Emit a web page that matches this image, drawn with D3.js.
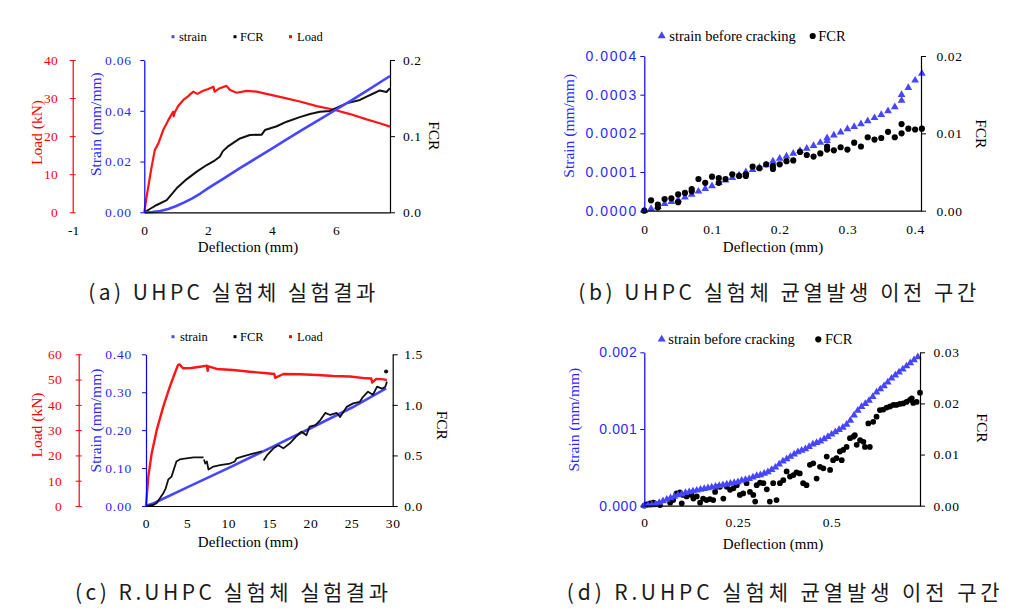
<!DOCTYPE html>
<html><head><meta charset="utf-8">
<script src="https://cdn.jsdelivr.net/npm/d3@7"></script>
<style>body{margin:0;background:#fff} svg{display:block}</style>
</head><body>
<svg id="c" width="1022" height="611"></svg>
<script>
// ---------- (a) UHPC ----------
const aStrainDefl = [0,0.25,0.5,0.75,1.0,1.25,1.5,1.75,2.0,2.5,3,3.5,4,4.5,5,5.5,6,6.5,7,7.68];
const aStrain = [0,0.0001,0.0005,0.0013,0.0025,0.0039,0.0055,0.0074,0.0095,0.0135,0.0175,0.0213,0.0252,0.0291,0.0330,0.0367,0.0405,0.0443,0.0482,0.0537];
const aLoadDefl = [0,0.06,0.125,0.23,0.33,0.44,0.59,0.75,0.9,0.92,0.95,1.06,1.22,1.375,1.53,1.66,1.84,2.0,2.16,2.2,2.36,2.57,2.68,2.89,3.2,3.51,3.82,4.34,4.86,5.39,5.9,6.43,6.95,7.36,7.68];
const aLoad = [0,3.5,6.7,12,16.4,18.1,21.6,24.2,26.4,25.2,26.2,27.9,29.5,30.5,31.7,31.1,31.9,32.4,33,31.7,32.6,33.2,32.1,31.4,31.9,31.7,31.1,30.1,29.1,27.9,27,25.8,24.4,23.4,22.5];
const aFcrDefl = [0,0.2,0.39,0.7,1.01,1.32,1.64,1.95,2.2,2.36,2.45,2.63,2.99,3.3,3.67,3.77,4.14,4.45,4.86,5.18,5.49,5.8,6.11,6.32,6.74,6.95,7.16,7.36,7.57,7.68];
const aFcr = [0,0.005,0.0096,0.016,0.0315,0.0433,0.0534,0.0621,0.068,0.073,0.08,0.087,0.097,0.1015,0.102,0.108,0.113,0.119,0.125,0.129,0.132,0.133,0.139,0.143,0.1475,0.152,0.156,0.160,0.158,0.163];
const aXTicks = [0,2,4,6];
const aStrainTicks = [0,0.02,0.04,0.06];
const aLoadTicks = [0,10,20,30,40];
const aFcrTicks = [0,0.1,0.2];

// ---------- (b) UHPC before cracking ----------
const bStrainDefl = [0,0.01,0.02,0.03,0.04,0.05,0.06,0.07,0.08,0.09,0.10,0.11,0.12,0.13,0.14,0.15,0.16,0.17,0.18,0.19,0.20,0.21,0.22,0.23,0.24,0.25,0.26,0.27,0.27,0.28,0.29,0.30,0.31,0.32,0.33,0.34,0.35,0.36,0.37,0.38,0.38,0.39,0.40,0.41];
const bStrain = [0,0.000005,0.00001,0.000018,0.000023,0.000028,0.000035,0.000042,0.00005,0.000057,0.000064,0.000072,0.000079,0.000085,0.000092,0.0001,0.000106,0.000112,0.000118,0.000128,0.000135,0.000141,0.000148,0.000155,0.000161,0.000168,0.000176,0.000181,0.000188,0.000195,0.000203,0.000211,0.000217,0.000224,0.000232,0.00024,0.000248,0.000258,0.000268,0.000285,0.0003,0.000318,0.000337,0.000355];
const bFcrDefl = [0,0.01,0.02,0.02,0.03,0.04,0.05,0.05,0.06,0.07,0.07,0.08,0.09,0.10,0.11,0.11,0.12,0.13,0.14,0.15,0.15,0.16,0.17,0.18,0.19,0.19,0.20,0.21,0.22,0.23,0.24,0.25,0.26,0.27,0.27,0.28,0.29,0.30,0.31,0.32,0.33,0.34,0.35,0.36,0.37,0.38,0.38,0.39,0.40,0.41];
const bFcr = [0,0.00134,0.0008,0.0004,0.0015,0.0016,0.0021,0.0011,0.0023,0.0028,0.0025,0.0041,0.0036,0.0044,0.0042,0.0036,0.0041,0.0047,0.0045,0.0047,0.0045,0.0057,0.0055,0.006,0.0058,0.0054,0.006,0.0064,0.0065,0.0076,0.0072,0.007,0.0074,0.0083,0.0079,0.0078,0.0082,0.0079,0.0088,0.0083,0.0095,0.0092,0.0094,0.0102,0.0095,0.0112,0.01,0.0106,0.0105,0.0106];
const bXTicks = [0,0.1,0.2,0.3,0.4];
const bStrainTicks = [0,0.0001,0.0002,0.0003,0.0004];
const bFcrTicks = [0,0.01,0.02];

// ---------- (c) R.UHPC ----------
const cStrainDefl = [0,1,5,10,15,20,25,29.2];
const cStrain = [0,0.008,0.049,0.1,0.152,0.205,0.259,0.31];
const cLoadDefl = [0,0.28,0.69,1.3,2.1,2.9,3.5,3.9,4.1,4.5,5.5,6.6,7.4,7.5,7.6,8.6,10.6,12.6,14.7,15.6,15.7,16.7,18.7,20.8,22.8,24.8,26.8,27.4,27.5,28.0,28.9,29.3];
const cLoad = [0,11.6,20.8,30,39.3,47.2,52.5,55.8,56,54.5,54.6,55.1,55.5,53.5,55.2,54.2,53.8,53.1,52.5,52.2,50.7,52.2,52.1,51.8,51.4,51.2,50.5,50.4,48.8,50.3,50.1,49.8];
const cFcrDefl = [0,0.9,1.3,2.1,2.4,2.7,3.1,3.3,3.7,4.1,4.9,5.8,7.0,7.02, 7.05,7.2,7.4,7.6,8.2,9.0,10.2,10.8,11.0,11.8,13.1,14.1,14.2, 14.3,14.7,15.5,16.1,16.7,17.5,18.3,18.9,19.5,19.9,20.6,21.2,21.8,22.4,23.2,23.6,24.4,25.2,26.0,26.4,27.0,27.6,28.1,28.7,29.1,29.3];
const cFcr = [0,0.01,0.03,0.125,0.175,0.26,0.29,0.34,0.44,0.46,0.47,0.48,0.48,null, 0.46,0.42,0.44,0.36,0.39,0.405,0.42,0.44,0.47,0.49,0.52,0.54,null, 0.45,0.50,0.57,0.60,0.57,0.62,0.69,0.735,0.70,0.785,0.80,0.85,0.92,0.90,0.92,0.88,0.98,1.015,1.03,1.08,1.13,1.10,1.18,1.16,1.18,1.23];
const cFcrEnd = [29.2, 1.33];
const cXTicks = [0,5,10,15,20,25,30];
const cStrainTicks = [0,0.1,0.2,0.3,0.4];
const cLoadTicks = [0,10,20,30,40,50,60];
const cFcrTicks = [0,0.5,1.0,1.5];

// ---------- (d) R.UHPC before cracking ----------
const dStrainDefl = [0,0.01,0.02,0.03,0.04,0.05,0.06,0.07,0.08,0.09,0.10,0.11,0.12,0.13,0.14,0.15,0.16,0.17,0.18,0.19,0.20,0.21,0.22,0.23,0.24,0.25,0.26,0.27,0.28,0.29,0.30,0.31,0.32,0.33,0.34,0.35,0.36,0.37,0.38,0.39,0.40,0.41,0.42,0.43,0.44,0.45,0.46,0.47,0.48,0.49,0.50,0.51,0.52,0.53,0.54,0.55,0.56,0.57,0.58,0.59,0.60,0.61,0.62,0.63,0.64,0.65,0.66,0.67,0.68,0.69,0.70,0.71,0.72,0.73];
const dStrain = [0,0.000005,0.00001,0.00002,0.00004,0.00006,0.00008,0.0001,0.00012,0.00014,0.00015,0.00017,0.00018,0.00019,0.0002,0.00021,0.00022,0.00023,0.00024,0.00025,0.00026,0.00027,0.00028,0.00029,0.0003,0.00031,0.00033,0.00034,0.00035,0.00037,0.00039,0.0004,0.00042,0.00044,0.00047,0.0005,0.00054,0.00058,0.00061,0.00064,0.00067,0.0007,0.00072,0.00074,0.00077,0.0008,0.00082,0.00084,0.00087,0.0009,0.00093,0.00096,0.00099,0.00102,0.00106,0.00111,0.00118,0.00124,0.00129,0.00133,0.00137,0.00142,0.00148,0.00152,0.00156,0.00161,0.00166,0.0017,0.00174,0.00178,0.00182,0.00186,0.0019,0.00194];
const dFcrDefl = [0,0.006,0.015,0.024,0.033,0.042,0.069,0.077,0.086,0.095,0.1,0.104,0.113,0.122,0.126,0.131,0.14,0.149,0.157,0.166,0.175,0.184,0.189,0.193,0.202,0.211,0.22,0.229,0.238,0.247,0.255,0.264,0.273,0.282,0.291,0.296,0.3,0.309,0.318,0.327,0.335,0.344,0.353,0.362,0.371,0.38,0.389,0.398,0.406,0.415,0.424,0.433,0.442,0.451,0.46,0.469,0.478,0.487,0.496,0.504,0.513,0.522,0.527,0.531,0.54,0.549,0.558,0.562,0.567,0.576,0.585,0.589,0.602,0.598,0.611,0.62,0.629,0.638,0.647,0.656,0.665,0.673,0.682,0.691,0.7,0.709,0.714,0.718,0.727,0.736];
const dFcr = [0,0.00026,0.00046,0.00059,0.00033,0.00013,0.00059,0.0011,0.0024,0.0026,0.00046,0.0021,0.0018,0.0024,0.0021,0.0014,0.0018,0.00059,0.0014,0.0011,0.0013,0.0011,0.0027,0.0037,0.0037,0.0014,0.0037,0.0031,0.0034,0.004,0.0021,0.0024,0.0044,0.0027,0.0021,0.0008,0.004,0.0045,0.0044,0.0032,0.0008,0.0044,0.0011,0.0044,0.005,0.0067,0.0057,0.006,0.0065,0.0063,0.0044,0.004,0.008,0.0083,0.0053,0.0076,0.0073,0.0096,0.007,0.0089,0.0093,0.0106,0.0089,0.0109,0.0115,0.0132,0.0135,0.0138,0.0119,0.0128,0.0125,0.0115,0.0115,0.0161,0.0164,0.0174,0.0187,0.0188,0.0192,0.0194,0.0197,0.0197,0.0199,0.02,0.0203,0.0207,0.021,0.0201,0.0203,0.0221];
const dXTicks = [0,0.25,0.5];
const dStrainTicks = [0,0.001,0.002];
const dFcrTicks = [0,0.01,0.02,0.03];

const captions = ["(a) UHPC 실험체 실험결과","(b) UHPC 실험체 균열발생 이전 구간","(c) R.UHPC 실험체 실험결과","(d) R.UHPC 실험체 균열발생 이전 구간"];

// ---------- drawing ----------
const svg = d3.select('#c');
const SERIF = "'Liberation Serif','Times New Roman',serif";
const SANS = "'Liberation Sans',Arial,sans-serif";
const RED = '#ff0000', BLUE = '#0000ff', BLUE_T = '#2a2aff', SBLUE = '#4646ff', BLACK = '#000';
const zip = (xs, ys) => xs.map((v, i) => [v, ys[i]]);

function styleAxis(g, color, ls, fs, family) {
  g.select('.domain').attr('stroke', color).attr('stroke-width', 1.2);
  g.selectAll('.tick line').attr('stroke', color).attr('stroke-width', 1);
  g.selectAll('.tick text').attr('fill', color).attr('font-family', family || SERIF)
    .attr('font-size', fs).style('letter-spacing', ls + 'px');
}

function vTitle(x, y, text, color, rot) {
  svg.append('text').attr('transform', `translate(${x},${y}) rotate(${rot})`)
    .attr('text-anchor', 'middle').attr('font-family', SERIF).attr('font-size', 15.5)
    .attr('fill', color).text(text);
}

function panel(c) {
  const x = d3.scaleLinear().domain(c.xDomain).range([c.left, c.right]);
  const yL = d3.scaleLinear().domain(c.lDomain).range([c.bottom, c.top]);
  const yR = d3.scaleLinear().domain(c.rDomain).range([c.bottom, c.top]);

  const layer = svg.append('g');
  c.series.forEach(s => {
    const y = s.axis === 'l' ? yL : s.axis === 'r' ? yR : s.yScale;
    const data = zip(s.xs, s.ys);
    if (s.type === 'line') {
      layer.append('path').datum(data)
        .attr('d', d3.line().defined(d => d[1] != null).x(d => x(d[0])).y(d => y(d[1])))
        .attr('fill', 'none').attr('stroke', s.color).attr('stroke-width', s.w)
        .attr('stroke-linejoin', 'round');
    } else {
      const sym = d3.symbol().type(s.type === 'tri' ? d3.symbolTriangle : d3.symbolCircle).size(s.size);
      layer.selectAll(null).data(data).enter().append('path')
        .attr('d', sym).attr('transform', d => `translate(${x(d[0])},${y(d[1])})`)
        .attr('fill', s.color);
    }
  });

  // x axis (no visible tick marks)
  const gx = svg.append('g').attr('transform', `translate(0,${c.bottom})`)
    .call(d3.axisBottom(x).tickValues(c.xTicks).tickFormat(c.xFmt).tickSize(0).tickSizeOuter(0).tickPadding(c.xPad + 4));
  styleAxis(gx, BLACK, 0.6, 13.5);
  // left strain axis
  const gl = svg.append('g').attr('transform', `translate(${c.left},0)`)
    .call(d3.axisLeft(yL).tickValues(c.lTicks).tickFormat(c.lFmt).tickSize(4).tickSizeOuter(0).tickPadding(c.lPad));
  styleAxis(gl, BLUE, c.lLs, c.lFs || 13.5, c.lFamily);
  gl.selectAll('.tick text').attr('fill', BLUE_T);
  // right fcr axis
  const gr = svg.append('g').attr('transform', `translate(${c.right},0)`)
    .call(d3.axisRight(yR).tickValues(c.rTicks).tickFormat(c.rFmt).tickSize(5).tickSizeOuter(0).tickPadding(c.rPad));
  styleAxis(gr, BLACK, 0.6, 13.5);
  // load axis (ticks crossing the line)
  if (c.load) {
    const gL = svg.append('g').attr('transform', `translate(${c.load.x},0)`)
      .call(d3.axisLeft(c.load.scale).tickValues(c.load.ticks).tickFormat(d3.format('d')).tickSize(3).tickSizeOuter(0).tickPadding(c.load.pad));
    styleAxis(gL, RED, 0.4, 13.5);
    gL.selectAll('.tick line').attr('x1', 3);
    vTitle(c.load.tx, c.load.ty, 'Load (kN)', RED, -90);
    if (c.load.extraX) {
      svg.append('text').attr('x', c.load.x + 1).attr('y', c.bottom + c.xPad + 4 + 9.6)
        .attr('text-anchor', 'middle').attr('font-family', SERIF).attr('font-size', 13.5).text(c.load.extraX);
    }
  }
  vTitle(c.sTitle[0], c.sTitle[1], 'Strain (mm/mm)', BLUE_T, -90);
  vTitle(c.fTitle[0], c.fTitle[1], 'FCR', BLACK, 90);
  svg.append('text').attr('x', c.xTitle[0]).attr('y', c.xTitle[1]).attr('text-anchor', 'middle')
    .attr('font-family', SERIF).attr('font-size', 15).text('Deflection (mm)');

  // legend
  c.legend.forEach(it => {
    const [lx, ly] = it.pos;
    if (it.mark === 'sq') {
      svg.append('rect').attr('x', lx - 1.5).attr('y', ly - 1.5).attr('width', 3).attr('height', 3).attr('fill', it.color);
    } else {
      const sym = d3.symbol().type(it.mark === 'tri' ? d3.symbolTriangle : d3.symbolCircle).size(it.size);
      svg.append('path').attr('d', sym).attr('transform', `translate(${lx},${ly})`).attr('fill', it.color);
    }
    svg.append('text').attr('x', it.tx).attr('y', ly + it.fs * 0.33).attr('font-family', SERIF)
      .attr('font-size', it.fs).text(it.text);
  });
}

const fmtDec = f => d => d === 0 ? '0' : d3.format(f)(d);

// (a)
const aLoadScale = d3.scaleLinear().domain([0, 40]).range([212.3, 60]);
panel({
  left: 144.3, right: 390, top: 60, bottom: 212.3,
  xDomain: [0, 7.68], xTicks: aXTicks, xFmt: d3.format('d'), xPad: 9,
  lDomain: [0, 0.06], lTicks: aStrainTicks, lFmt: d3.format('.2f'), lPad: 8.5, lLs: 0.8,
  rDomain: [0, 0.2], rTicks: aFcrTicks, rFmt: d3.format('.1f'), rPad: 8,
  load: { x: 72.7, scale: aLoadScale, ticks: aLoadTicks, pad: 11.5, tx: 42, ty: 132.5, extraX: '-1' },
  sTitle: [100.5, 124.2], fTitle: [428.5, 135.8], xTitle: [248, 252],
  series: [
    { type: 'line', xs: aLoadDefl, ys: aLoad, axis: 'load', yScale: aLoadScale, color: '#ff1515', w: 2.2 },
    { type: 'line', xs: aFcrDefl, ys: aFcr, axis: 'r', color: '#111', w: 2 },
    { type: 'line', xs: aStrainDefl, ys: aStrain, axis: 'l', color: SBLUE, w: 2.6 }
  ],
  legend: [
    { mark: 'sq', color: SBLUE, pos: [173, 36.7], tx: 179, text: 'strain', fs: 12.5 },
    { mark: 'sq', color: BLACK, pos: [235, 36.7], tx: 240, text: 'FCR', fs: 12.5 },
    { mark: 'sq', color: RED, pos: [290.5, 36.7], tx: 297, text: 'Load', fs: 12.5 }
  ]
});

// (b)
panel({
  left: 644.3, right: 921, top: 56, bottom: 210.7,
  xDomain: [0, 0.4087], xTicks: bXTicks, xFmt: fmtDec('.1f'), xPad: 10,
  lDomain: [0, 0.0004], lTicks: bStrainTicks, lFmt: d3.format('.4f'), lPad: 2.5, lLs: 1.6, lFs: 14, lFamily: SANS,
  rDomain: [0, 0.02], rTicks: bFcrTicks, rFmt: d3.format('.2f'), rPad: 10.5,
  sTitle: [573.5, 125.8], fTitle: [975.5, 133.8], xTitle: [773, 251.7],
  series: [
    { type: 'tri', xs: bStrainDefl, ys: bStrain, axis: 'l', color: SBLUE, size: 26 },
    { type: 'circ', xs: bFcrDefl, ys: bFcr, axis: 'r', color: BLACK, size: 30 }
  ],
  legend: [
    { mark: 'tri', color: SBLUE, pos: [661.7, 36], size: 28, tx: 669.3, text: 'strain before cracking', fs: 14.5 },
    { mark: 'circ', color: BLACK, pos: [812.7, 36], size: 30, tx: 818.3, text: 'FCR', fs: 14.5 }
  ]
});

// (c)
const cLoadScale = d3.scaleLinear().domain([0, 60]).range([506, 354.3]);
panel({
  left: 146, right: 392.7, top: 354.3, bottom: 506,
  xDomain: [0, 30], xTicks: cXTicks, xFmt: d3.format('d'), xPad: 8,
  lDomain: [0, 0.4], lTicks: cStrainTicks, lFmt: d3.format('.2f'), lPad: 10, lLs: 0.8,
  rDomain: [0, 1.5], rTicks: cFcrTicks, rFmt: d3.format('.1f'), rPad: 6.5,
  load: { x: 78.7, scale: cLoadScale, ticks: cLoadTicks, pad: 13.5, tx: 42, ty: 425 },
  sTitle: [100.5, 420.5], fTitle: [436.5, 425.3], xTitle: [248, 547],
  series: [
    { type: 'line', xs: cStrainDefl, ys: cStrain, axis: 'l', color: SBLUE, w: 2.6 },
    { type: 'line', xs: cFcrDefl, ys: cFcr, axis: 'r', color: '#111', w: 1.8 },
    { type: 'circ', xs: [cFcrEnd[0]], ys: [cFcrEnd[1]], axis: 'r', color: '#111', size: 14 },
    { type: 'line', xs: cLoadDefl, ys: cLoad, axis: 'load', yScale: cLoadScale, color: '#ff1515', w: 2.4 }
  ],
  legend: [
    { mark: 'sq', color: SBLUE, pos: [173, 336.7], tx: 180, text: 'strain', fs: 12.5 },
    { mark: 'sq', color: BLACK, pos: [235, 336.7], tx: 240, text: 'FCR', fs: 12.5 },
    { mark: 'sq', color: RED, pos: [290.5, 336.7], tx: 297, text: 'Load', fs: 12.5 }
  ]
});

// (d)
panel({
  left: 644.3, right: 920, top: 352.3, bottom: 505.7,
  xDomain: [0, 0.736], xTicks: dXTicks, xFmt: d => d === 0 ? '0' : String(d), xPad: 7.5,
  lDomain: [0, 0.002], lTicks: dStrainTicks, lFmt: d3.format('.3f'), lPad: 3, lLs: 0.6, lFs: 14, lFamily: SANS,
  rDomain: [0, 0.03], rTicks: dFcrTicks, rFmt: d3.format('.2f'), rPad: 8.5,
  sTitle: [578.5, 419.7], fTitle: [977, 428], xTitle: [773, 549],
  series: [
    { type: 'circ', xs: dFcrDefl, ys: dFcr, axis: 'r', color: BLACK, size: 26 },
    { type: 'tri', xs: dStrainDefl, ys: dStrain, axis: 'l', color: SBLUE, size: 26 }
  ],
  legend: [
    { mark: 'tri', color: SBLUE, pos: [661.7, 339.3], size: 28, tx: 668.3, text: 'strain before cracking', fs: 14.5 },
    { mark: 'circ', color: BLACK, pos: [818.3, 339.3], size: 30, tx: 825, text: 'FCR', fs: 14.5 }
  ]
});

// captions
const capPos = [[88.3, 300, 287], [578.3, 300, 398], [75, 600, 313], [566.7, 600, 433]];
captions.forEach((t, i) => {
  const [cx, cy, len] = capPos[i];
  svg.append('text').attr('x', cx).attr('y', cy)
    .attr('font-family', "'Noto Sans CJK KR','Noto Sans',sans-serif").attr('font-size', 21)
    .attr('fill', '#1a1a1a')
    .attr('textLength', len).attr('lengthAdjust', 'spacing').text(t);
});
</script>
</body></html>
